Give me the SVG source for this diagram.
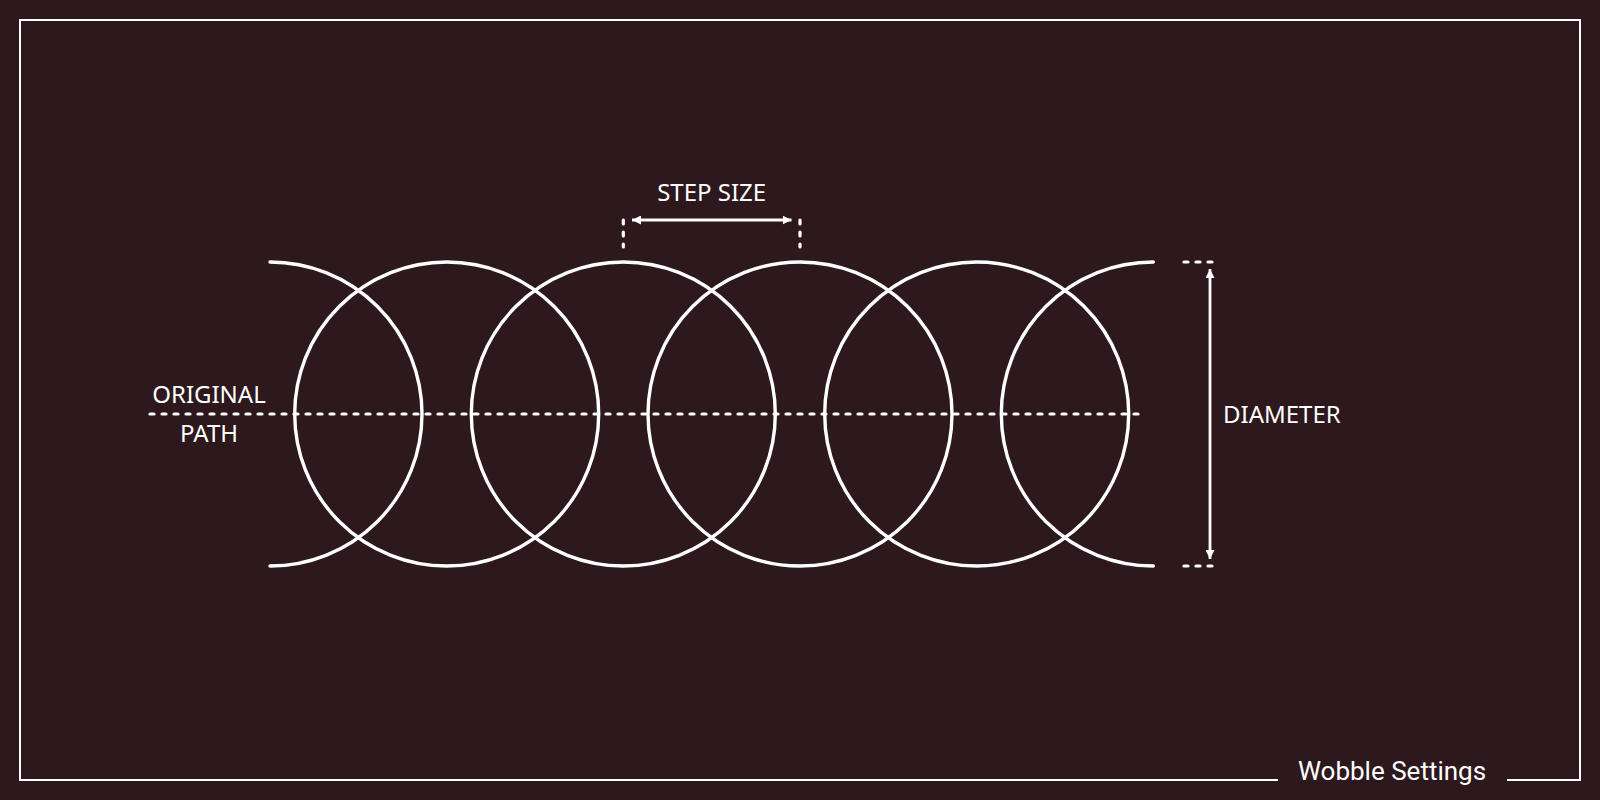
<svg xmlns="http://www.w3.org/2000/svg" width="1600" height="800" viewBox="0 0 1600 800">
  <defs>
    <style>
      .bg { fill: #2c181d; }
      .frame { fill: none; stroke: #ffffff; stroke-width: 2; }
      .curve { fill: none; stroke: #ffffff; stroke-width: 3.4; stroke-linecap: round; }
      .dash { fill: none; stroke: #ffffff; stroke-width: 3.2; stroke-linecap: round; stroke-dasharray: 4 8; }
      .arrow { fill: none; stroke: #ffffff; stroke-width: 2.8; }
      .label { fill: #ffffff; font-family: "Noto Sans", "Open Sans", sans-serif; font-size: 24px; }
      .title { fill: #ffffff; font-family: Roboto, "Noto Sans", sans-serif; font-size: 26px; }
    </style>
    <marker id="ah" viewBox="0 0 10 10" refX="10" refY="5" markerWidth="9" markerHeight="9" markerUnits="userSpaceOnUse" orient="auto-start-reverse">
      <path d="M0,0 L10,5 L0,10 z" fill="#ffffff"/>
    </marker>
  </defs>

  <rect class="bg" x="0" y="0" width="1600" height="800"/>

  <g id="frame">
    <path class="frame" d="M1278,780 H20 V20 H1580 V780 H1507"/>
    <text class="title" x="1392" y="780" text-anchor="middle">Wobble Settings</text>
  </g>

  <g id="wobble">
    <path class="curve" d="M270,262 A152,152 0 0 1 270,566"/>
    <circle class="curve" cx="446.7" cy="414" r="152"/>
    <circle class="curve" cx="623.3" cy="414" r="152"/>
    <circle class="curve" cx="800" cy="414" r="152"/>
    <circle class="curve" cx="976.7" cy="414" r="152"/>
    <path class="curve" d="M1153.3,262 A152,152 0 0 0 1153.3,566"/>
  </g>

  <g id="original-path">
    <line class="dash" x1="150" y1="414" x2="1138" y2="414"/>
    <text class="label" x="209" y="403" text-anchor="middle">ORIGINAL</text>
    <text class="label" x="209" y="442" text-anchor="middle">PATH</text>
  </g>

  <g id="step-size">
    <line class="dash" x1="623.3" y1="220" x2="623.3" y2="247"/>
    <line class="dash" x1="800" y1="220" x2="800" y2="247"/>
    <line class="arrow" x1="632" y1="220" x2="791.5" y2="220" marker-start="url(#ah)" marker-end="url(#ah)"/>
    <text class="label" x="711.7" y="201" text-anchor="middle">STEP SIZE</text>
  </g>

  <g id="diameter">
    <line class="dash" x1="1184" y1="262" x2="1212" y2="262"/>
    <line class="dash" x1="1184" y1="566" x2="1212" y2="566"/>
    <line class="arrow" x1="1210" y1="269" x2="1210" y2="559" marker-start="url(#ah)" marker-end="url(#ah)"/>
    <text class="label" x="1223" y="422.5">DIAMETER</text>
  </g>
</svg>
